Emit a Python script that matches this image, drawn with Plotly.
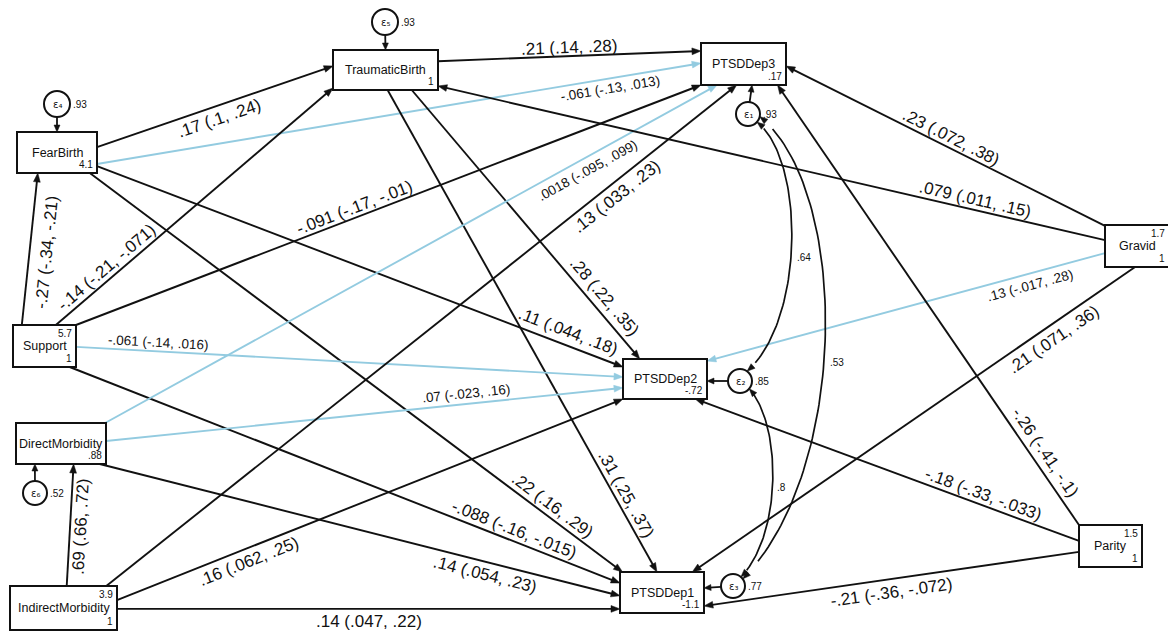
import math
import plotly.graph_objects as go

# ---------------- data ----------------
node_names = ["FearBirth", "TraumaticBirth", "PTSDDep3", "Gravid", "Support",
              "DirectMorbidity", "IndirectMorbidity", "PTSDDep2", "PTSDDep1", "Parity"]
node_mean = [None, None, None, 1.7, 5.7, None, 3.9, None, None, 1.5]      # upper-right value
node_lower = [4.1, 1, 0.17, 1, 1, 0.88, 1, -0.72, -1.1, 1]                # lower-right value

err_names = ["ε₁", "ε₂", "ε₃", "ε₄", "ε₅", "ε₆"]
err_node = ["PTSDDep3", "PTSDDep2", "PTSDDep1", "FearBirth", "TraumaticBirth", "DirectMorbidity"]
err_var = [0.93, 0.85, 0.77, 0.93, 0.93, 0.52]

edge_src = ["FearBirth", "FearBirth", "FearBirth", "FearBirth",
            "TraumaticBirth", "TraumaticBirth", "TraumaticBirth",
            "Support", "Support", "Support", "Support", "Support",
            "DirectMorbidity", "DirectMorbidity", "DirectMorbidity",
            "IndirectMorbidity", "IndirectMorbidity", "IndirectMorbidity", "IndirectMorbidity",
            "Gravid", "Gravid", "Gravid", "Gravid",
            "Parity", "Parity", "Parity"]
edge_dst = ["TraumaticBirth", "PTSDDep3", "PTSDDep2", "PTSDDep1",
            "PTSDDep3", "PTSDDep2", "PTSDDep1",
            "FearBirth", "TraumaticBirth", "PTSDDep3", "PTSDDep2", "PTSDDep1",
            "PTSDDep3", "PTSDDep2", "PTSDDep1",
            "DirectMorbidity", "PTSDDep3", "PTSDDep2", "PTSDDep1",
            "PTSDDep3", "TraumaticBirth", "PTSDDep2", "PTSDDep1",
            "PTSDDep3", "PTSDDep2", "PTSDDep1"]
edge_coef = [.17, -.061, .11, .22, .21, .28, .31, -.27, -.14, -.091, -.061, -.088,
             .0018, .07, .14, .69, .13, .16, .14, .23, .079, .13, .21, -.26, -.18, -.21]
edge_lo = [.1, -.13, .044, .16, .14, .22, .25, -.34, -.21, -.17, -.14, -.16,
           -.095, -.023, .054, .66, .033, .062, .047, .072, .011, -.017, .071, -.41, -.33, -.36]
edge_hi = [.24, .013, .18, .29, .28, .35, .37, -.21, -.071, -.01, .016, -.015,
           .099, .16, .23, .72, .23, .25, .22, .38, .15, .28, .36, -.1, -.033, -.072]

cov_a = [0, 0, 1]   # indices into err lists
cov_b = [1, 2, 2]
cov_val = [0.64, 0.53, 0.8]

# ---------------- layout (pixel geometry of the page) ----------------
W, H = 1176, 634
PAGE_MARGIN = 8   # browser body margin around the plot div
box = {
    "FearBirth": (17, 132, 97, 173),
    "TraumaticBirth": (333, 50, 438, 90),
    "PTSDDep3": (701, 43, 786, 85),
    "Gravid": (1105, 225, 1169, 267),
    "Support": (13, 325, 76, 367),
    "DirectMorbidity": (16, 423, 106, 464),
    "IndirectMorbidity": (10, 586, 117, 630),
    "PTSDDep2": (623, 359, 707, 399),
    "PTSDDep1": (620, 572, 704, 613),
    "Parity": (1079, 525, 1142, 567),
}
# (src fx, src fy, dst fx, dst fy, label t, label perpendicular offset)
edge_geom = [
    (1, .37, 0, .40, .50, 13), (1, .78, 0, .48, .848, 10), (1, .83, 0, .20, .886, -14),
    (.91, 1, .03, 0, .856, -11),
    (1, .28, 0, .19, .50, -9), (.75, 1, .20, 0, .80, -13), (.52, 1, .44, 0, .85, -11),
    (.14, 0, .26, 1, .49, 17), (.68, 0, 0, .95, .208, -11), (1, 0, 0, 1, .452, -10),
    (1, .52, 0, .45, .15, -9), (.9, 1, 0, .27, .80, -11),
    (.99, 0, .19, 1, .779, 12), (1, .44, 0, .72, .70, -10), (.93, 1, 0, .58, .746, 13),
    (.53, 0, .64, 1, .49, 11), (.9, 0, .42, 1, .797, 13), (1, .32, 0, 1, .251, 13),
    (1, .52, 0, .9, .50, 13),
    (0, .02, 1, .55, .496, -10), (0, .36, 1, .9, .198, -10), (0, .67, 1, .05, .196, 12),
    (.47, 1, .86, 0, .201, 14),
    (0, 0, .9, 1, .148, -13), (0, .38, .86, 1, .258, -11), (0, .64, 1, .83, .504, 13),
]
# error circles: centre, radius, target anchor on node
err_geom = [
    ((748, 114), 12, (.6, 1)), ((740, 381), 12, (1, .55)), ((733, 586), 12, (1, .39)),
    ((57, 104), 13, (.5, 0)), ((385, 22), 13, (.5, 0)), ((35, 493), 12, (.21, 1)),
]
# covariance curves: start angle, end angle (deg), control points, label t, label dx
cov_geom = [
    (42, -54, (805, 160), (805, 320), .55, 4),
    (12, -36, (850, 190), (850, 470), .55, 4),
    (40, -49, (782, 425), (782, 535), .53, 3),
]

BLACK = "#111111"
BLUE = "#93cbe0"
FONT = "Liberation Sans, Arial, sans-serif"


def sfmt(v):
    s = f"{v:.2g}"
    if s.startswith("0."):
        s = s[1:]
    elif s.startswith("-0."):
        s = "-" + s[2:]
    return s


def anchor(name, fx, fy):
    x0, y0, x1, y1 = box[name]
    return (x0 + fx * (x1 - x0), y0 + fy * (y1 - y0))


fig = go.Figure()
shapes, annotations = [], []


def arrowhead(tip, direction, color, length=9, half=3.4):
    ux, uy = direction
    n = math.hypot(ux, uy)
    ux, uy = ux / n, uy / n
    bx, by = tip[0] - ux * length, tip[1] - uy * length
    nx, ny = -uy, ux
    path = (f"M{tip[0]:.2f},{tip[1]:.2f} L{bx + nx * half:.2f},{by + ny * half:.2f} "
            f"L{bx - nx * half:.2f},{by - ny * half:.2f} Z")
    shapes.append(dict(type="path", xref="x", yref="y", path=path, fillcolor=color,
                       line=dict(color=color, width=0.5), layer="above"))
    return (tip[0] - ux * length * 0.7, tip[1] - uy * length * 0.7)


# ---- paths ----
for i in range(len(edge_src)):
    sfx, sfy, dfx, dfy, lt, off = edge_geom[i]
    A = anchor(edge_src[i], sfx, sfy)
    B = anchor(edge_dst[i], dfx, dfy)
    nonsig = edge_lo[i] < 0 < edge_hi[i]
    col = BLUE if nonsig else BLACK
    dx, dy = B[0] - A[0], B[1] - A[1]
    L = math.hypot(dx, dy)
    ux, uy = dx / L, dy / L
    E = arrowhead(B, (ux, uy), col)
    fig.add_trace(go.Scatter(x=[A[0], E[0]], y=[A[1], E[1]], mode="lines",
                             line=dict(color=col, width=1.9), hoverinfo="skip"))
    nx, ny = -uy, ux
    if ny < 0:
        nx, ny = -nx, -ny
    px = A[0] + dx * lt + nx * off
    py = A[1] + dy * lt + ny * off
    ang = math.degrees(math.atan2(dy, dx))
    if ang > 90:
        ang -= 180
    elif ang <= -90:
        ang += 180
    txt = f"{sfmt(edge_coef[i])} ({sfmt(edge_lo[i])}, {sfmt(edge_hi[i])})"
    annotations.append(dict(x=px, y=py, xref="x", yref="y", text=txt, showarrow=False,
                            textangle=ang, xanchor="center", yanchor="middle",
                            font=dict(family=FONT, size=13.5 if nonsig else 17, color=BLACK)))

# ---- nodes ----
for k, name in enumerate(node_names):
    x0, y0, x1, y1 = box[name]
    shapes.append(dict(type="rect", xref="x", yref="y", x0=x0, y0=y0, x1=x1, y1=y1,
                       line=dict(color=BLACK, width=2), fillcolor="white", layer="above"))
    annotations.append(dict(x=(x0 + x1) / 2, y=(y0 + y1) / 2, xref="x", yref="y", text=name,
                            showarrow=False, font=dict(family=FONT, size=12.5, color=BLACK)))
    if node_mean[k] is not None:
        annotations.append(dict(x=x1 - 2, y=y0 + 1, xref="x", yref="y", text=sfmt(node_mean[k]),
                                showarrow=False, xanchor="right", yanchor="top",
                                font=dict(family=FONT, size=10, color=BLACK)))
    annotations.append(dict(x=x1 - 2, y=y1 - 1, xref="x", yref="y", text=sfmt(node_lower[k]),
                            showarrow=False, xanchor="right", yanchor="bottom",
                            font=dict(family=FONT, size=10, color=BLACK)))

# ---- error terms ----
for j in range(len(err_names)):
    (cx, cy), r, (fx, fy) = err_geom[j]
    shapes.append(dict(type="circle", xref="x", yref="y", x0=cx - r, y0=cy - r, x1=cx + r, y1=cy + r,
                       line=dict(color=BLACK, width=2), fillcolor="white", layer="above"))
    annotations.append(dict(x=cx, y=cy, xref="x", yref="y", text=err_names[j], showarrow=False,
                            font=dict(family="DejaVu Sans, " + FONT, size=10, color=BLACK)))
    annotations.append(dict(x=cx + r + 1, y=cy, xref="x", yref="y", text=sfmt(err_var[j]),
                            showarrow=False, xanchor="left", yanchor="middle",
                            font=dict(family=FONT, size=10, color=BLACK)))
    T = anchor(err_node[j], fx, fy)
    dx, dy = T[0] - cx, T[1] - cy
    L = math.hypot(dx, dy)
    S = (cx + dx / L * r, cy + dy / L * r)
    E = arrowhead(T, (dx, dy), BLACK, length=7, half=3)
    fig.add_trace(go.Scatter(x=[S[0], E[0]], y=[S[1], E[1]], mode="lines",
                             line=dict(color=BLACK, width=1.8), hoverinfo="skip"))

# ---- covariances ----
for k in range(len(cov_val)):
    a0, a1, C1, C2, lt, ldx = cov_geom[k]
    ca, ra = err_geom[cov_a[k]][0], err_geom[cov_a[k]][1]
    cb, rb = err_geom[cov_b[k]][0], err_geom[cov_b[k]][1]
    P0 = (ca[0] + ra * math.cos(math.radians(a0)), ca[1] + ra * math.sin(math.radians(a0)))
    P3 = (cb[0] + rb * math.cos(math.radians(a1)), cb[1] + rb * math.sin(math.radians(a1)))

    def bez(t):
        m = 1 - t
        return (m ** 3 * P0[0] + 3 * m * m * t * C1[0] + 3 * m * t * t * C2[0] + t ** 3 * P3[0],
                m ** 3 * P0[1] + 3 * m * m * t * C1[1] + 3 * m * t * t * C2[1] + t ** 3 * P3[1])
    pts = [bez(s / 80) for s in range(4, 77)]
    arrowhead(P0, (P0[0] - C1[0], P0[1] - C1[1]), BLACK, length=8, half=3)
    arrowhead(P3, (P3[0] - C2[0], P3[1] - C2[1]), BLACK, length=8, half=3)
    fig.add_trace(go.Scatter(x=[p[0] for p in pts], y=[p[1] for p in pts], mode="lines",
                             line=dict(color=BLACK, width=1.7), hoverinfo="skip"))
    lp = bez(lt)
    annotations.append(dict(x=lp[0] + ldx, y=lp[1], xref="x", yref="y", text=sfmt(cov_val[k]),
                            showarrow=False, xanchor="left", yanchor="middle",
                            font=dict(family=FONT, size=10, color=BLACK)))

fig.update_layout(
    width=W - PAGE_MARGIN, height=H - PAGE_MARGIN, autosize=False,
    margin=dict(l=0, r=0, t=0, b=0),
    paper_bgcolor="white", plot_bgcolor="white", showlegend=False,
    xaxis=dict(range=[PAGE_MARGIN, W], visible=False, fixedrange=True),
    yaxis=dict(range=[H, PAGE_MARGIN], visible=False, fixedrange=True),
    shapes=shapes, annotations=annotations,
)
fig.write_html("out.html")
